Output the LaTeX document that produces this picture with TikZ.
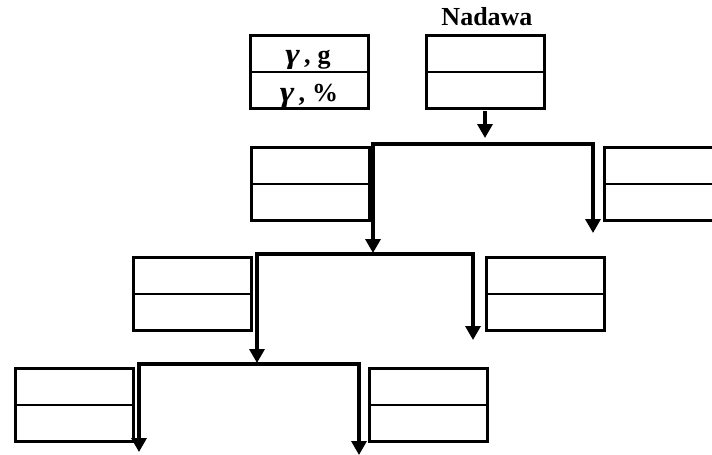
\documentclass[tikz,border=0pt]{standalone}
\usepackage{fontspec}
\setmainfont{Liberation Serif}
\usetikzlibrary{arrows.meta}
\begin{document}
\begin{tikzpicture}[x=1pt,y=-1pt,
  boxa/.style={draw,line width=2.5pt,minimum width=118pt,minimum height=73pt,inner sep=0pt,anchor=north west},
  divline/.style={line width=2.5pt},
  conn/.style={line width=3.3pt,line join=miter,{Triangle[width=15pt,length=14pt]}-{Triangle[width=15pt,length=14pt]}},
  conn1/.style={line width=3.3pt,-{Triangle[width=15pt,length=14pt]}},
  txt/.style={font=\bfseries\fontsize{26}{28}\selectfont,inner sep=0pt,anchor=base}]
\useasboundingbox (0,0) rectangle (712,455);
% boxes
\node[boxa] (leg) at (249,34) {};
\node[boxa] (root) at (425,34) {};
\node[boxa] (a1) at (250,146) {};
\node[boxa] (b1) at (603,146) {};
\node[boxa] (a2) at (132,256) {};
\node[boxa] (b2) at (485,256) {};
\node[boxa] (a3) at (14,367) {};
\node[boxa] (b3) at (368,367) {};
\foreach \n in {leg,root,a1,b1,a2,b2,a3,b3}{\draw[divline] (\n.west) -- (\n.east);}
% texts
\node[txt] (nad) at (487,25) {Nadawa};
\node[txt] (lg) at (308,63) {\scalebox{1.35}[1.1]{\textit{γ}}\hspace{4pt},\hspace{7pt}g};
\node[txt] (lp) at (309,101) {\scalebox{1.35}[1.1]{\textit{γ}}\hspace{4pt},\hspace{7pt}\%};
% connectors
\coordinate (r0) at (485,111);
\coordinate (r1) at (485,138);
\draw[conn1] (r0) -- (r1);
\coordinate (t1l) at (373,253);
\coordinate (h1) at (485,144);
\coordinate (t1r) at (593,233);
\draw[conn] (t1l) |- (h1) -| (t1r);
\coordinate (t2l) at (257,363);
\coordinate (h2) at (373,254);
\coordinate (t2r) at (473,340);
\draw[conn] (t2l) |- (h2) -| (t2r);
\coordinate (t3l) at (139,452);
\coordinate (h3) at (257,364);
\coordinate (t3r) at (359,455);
\draw[conn] (t3l) |- (h3) -| (t3r);
\end{tikzpicture}
\end{document}
